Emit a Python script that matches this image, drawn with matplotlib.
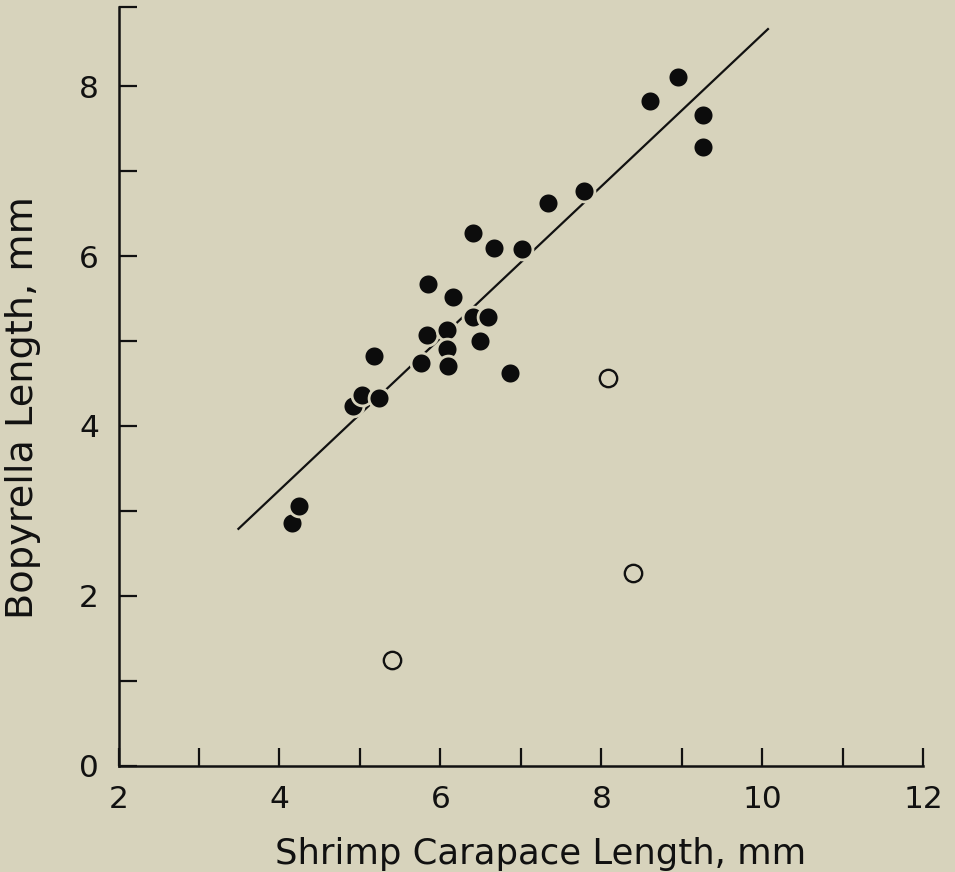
import matplotlib.pyplot as plt

# shrimp carapace length (mm) vs bopyrella length (mm)
shrimp_filled = [4.16, 4.24, 4.91, 5.02, 5.24, 5.17, 5.76, 5.83, 5.84, 6.08, 6.08, 6.09,
                 6.16, 6.40, 6.40, 6.49, 6.59, 6.67, 6.86, 7.01, 7.34, 7.78, 8.60, 8.95,
                 9.26, 9.26]
bopy_filled = [2.86, 3.06, 4.24, 4.37, 4.33, 4.82, 4.74, 5.07, 5.67, 5.13, 4.90, 4.71,
               5.52, 6.27, 5.28, 5.00, 5.28, 6.10, 4.62, 6.08, 6.62, 6.76, 7.82, 8.11,
               7.66, 7.28]
shrimp_open = [5.40, 8.08, 8.39]
bopy_open = [1.25, 4.57, 2.27]

# regression line end points
fit_x = [3.49, 10.07]
fit_y = [2.79, 8.67]

bg = '#d7d3bc'
ink = '#111111'
plt.rcParams['font.family'] = ['DejaVu Sans']

fig = plt.figure(figsize=(9.55, 8.72), dpi=100, facecolor=bg)
ax = fig.add_axes([0.1241, 0.1216, 0.8427, 0.8704])
ax.set_facecolor(bg)

ax.plot(fit_x, fit_y, color=ink, lw=1.6, zorder=1)
ax.plot(shrimp_filled, bopy_filled, 'o', ms=15, mfc='#0c0c0c', mec=bg, mew=2.0, zorder=2)
ax.plot(shrimp_open, bopy_open, 'o', ms=12.5, mfc='none', mec=ink, mew=1.7, zorder=2)

ax.set_xlim(2, 12)
ax.set_ylim(0, 8.93)
ax.set_xticks(range(2, 13))
ax.set_xticklabels([str(v) if v % 2 == 0 else '' for v in range(2, 13)])
ax.set_yticks(list(range(0, 9)) + [8.93])
ax.set_yticklabels([str(v) if v % 2 == 0 else '' for v in range(0, 9)] + [''])

for s in ['top', 'right']:
    ax.spines[s].set_visible(False)
for s in ['left', 'bottom']:
    ax.spines[s].set_linewidth(1.8)
    ax.spines[s].set_color(ink)

ax.tick_params(direction='in', length=13, width=1.6, color=ink,
               labelsize=22.5, labelcolor=ink)
ax.tick_params(axis='x', pad=14)
ax.tick_params(axis='y', pad=14)

ax.set_xlabel('Shrimp Carapace Length, mm', fontsize=25.5, color=ink)
ax.xaxis.set_label_coords(0.524, -0.093)
ax.set_ylabel('Bopyrella Length, mm', fontsize=27.5, color=ink)
ax.yaxis.set_label_coords(-0.096, 0.472)

fig.savefig('out.png', dpi=100, facecolor=bg)
